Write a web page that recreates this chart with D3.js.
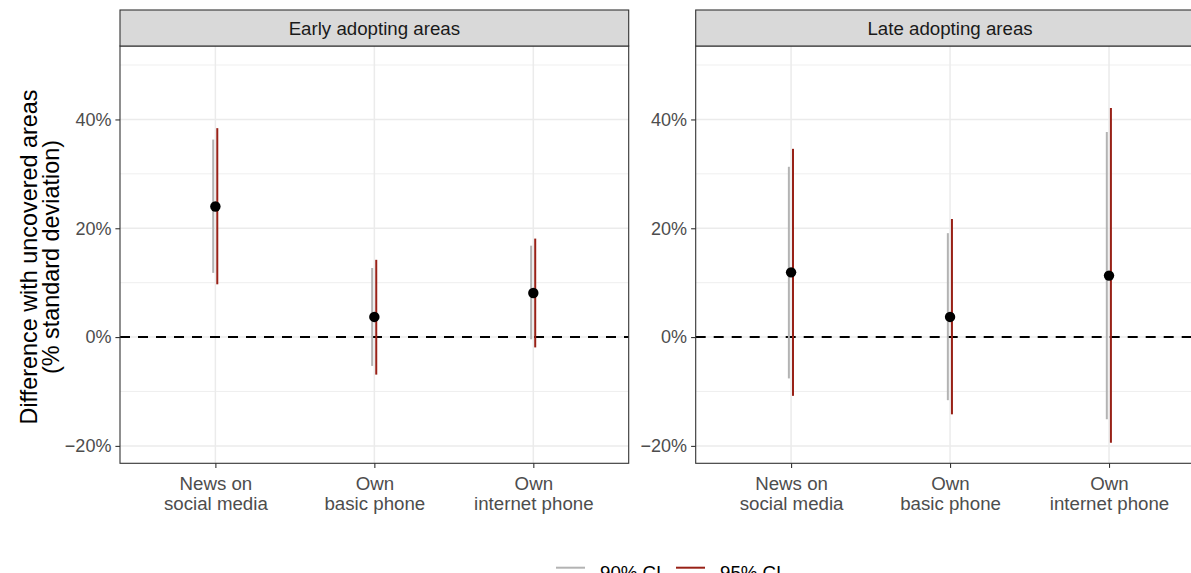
<!DOCTYPE html>
<html>
<head>
<meta charset="utf-8">
<script src="https://cdn.jsdelivr.net/npm/d3@7"></script>
<style>
  html, body { margin: 0; padding: 0; background: #fff; overflow: hidden; }
  svg { display: block; font-family: "Liberation Sans", Arial, Helvetica, sans-serif; }
</style>
</head>
<body>
<svg id="chart" width="1191" height="573"></svg>
<script>
// Outcomes along the x axis (two-line labels)
const categories = ["News on\nsocial media", "Own\nbasic phone", "Own\ninternet phone"];
const panels = ["Early adopting areas", "Late adopting areas"];

// Point estimates (% of a standard deviation), one array per panel
const estEarly = [24.0, 3.7, 8.1];
const estLate  = [11.9, 3.7, 11.3];

// 90% confidence intervals
const ci90LowEarly  = [11.8, -5.3, -0.4];
const ci90HighEarly = [36.3, 12.7, 16.8];
const ci90LowLate   = [-7.6, -11.6, -15.1];
const ci90HighLate  = [31.3, 19.1, 37.7];

// 95% confidence intervals
const ci95LowEarly  = [9.7, -6.9, -1.9];
const ci95HighEarly = [38.4, 14.2, 18.1];
const ci95LowLate   = [-10.8, -14.2, -19.4];
const ci95HighLate  = [34.6, 21.7, 42.1];

const yTicks = [-20, 0, 20, 40];
const yMinor = [-10, 10, 30, 50];
const legendLabels = ["90% CI", "95% CI"];

const panelData = [
  { title: panels[0], est: estEarly, lo90: ci90LowEarly, hi90: ci90HighEarly, lo95: ci95LowEarly, hi95: ci95HighEarly },
  { title: panels[1], est: estLate,  lo90: ci90LowLate,  hi90: ci90HighLate,  lo95: ci95LowLate,  hi95: ci95HighLate }
];

const col90 = "#b3b3b3";
const col95 = "#982117";
const svg = d3.select("#chart");

const panelTop = 46, panelBottom = 463.3;
const panelX = [[120, 628.7], [695.7, 1204.4]];
const stripTop = 10;

const y = d3.scaleLinear().domain([-23.2, 53.5]).range([panelBottom, panelTop]);
const pct = d => (d < 0 ? "\u2212" : "") + Math.abs(d) + "%";

panelData.forEach((p, i) => {
  const [x0, x1] = panelX[i];
  const x = d3.scalePoint().domain(categories).range([x0, x1]).padding(0.6);
  const g = svg.append("g");

  // panel background + grid
  g.append("rect").attr("x", x0).attr("y", panelTop).attr("width", x1 - x0).attr("height", panelBottom - panelTop).attr("fill", "#fff");
  g.selectAll(".minor").data(yMinor).join("line")
    .attr("x1", x0).attr("x2", x1).attr("y1", d => y(d)).attr("y2", d => y(d))
    .attr("stroke", "#ebebeb").attr("stroke-width", 0.8);
  g.selectAll(".major").data(yTicks).join("line")
    .attr("x1", x0).attr("x2", x1).attr("y1", d => y(d)).attr("y2", d => y(d))
    .attr("stroke", "#ebebeb").attr("stroke-width", 1.5);
  g.selectAll(".vgrid").data(categories).join("line")
    .attr("x1", d => x(d)).attr("x2", d => x(d)).attr("y1", panelTop).attr("y2", panelBottom)
    .attr("stroke", "#ebebeb").attr("stroke-width", 1.5);

  // reference line at zero
  g.append("line").attr("x1", x0).attr("x2", x1).attr("y1", y(0)).attr("y2", y(0))
    .attr("stroke", "#000").attr("stroke-width", 2).attr("stroke-dasharray", "10,8");

  const idx = d3.range(categories.length);
  // 90% intervals (nudged left), 95% intervals (nudged right)
  g.selectAll(".ci90").data(idx).join("line")
    .attr("x1", j => x(categories[j]) - 2.2).attr("x2", j => x(categories[j]) - 2.2)
    .attr("y1", j => y(p.lo90[j])).attr("y2", j => y(p.hi90[j]))
    .attr("stroke", col90).attr("stroke-width", 2);
  g.selectAll(".ci95").data(idx).join("line")
    .attr("x1", j => x(categories[j]) + 1.9).attr("x2", j => x(categories[j]) + 1.9)
    .attr("y1", j => y(p.lo95[j])).attr("y2", j => y(p.hi95[j]))
    .attr("stroke", col95).attr("stroke-width", 2);
  g.selectAll(".pt").data(idx).join("circle")
    .attr("cx", j => x(categories[j])).attr("cy", j => y(p.est[j])).attr("r", 5.2)
    .attr("fill", "#000");

  // panel border
  g.append("rect").attr("x", x0).attr("y", panelTop).attr("width", x1 - x0).attr("height", panelBottom - panelTop)
    .attr("fill", "none").attr("stroke", "#333").attr("stroke-width", 1.1);

  // strip
  g.append("rect").attr("x", x0).attr("y", stripTop).attr("width", x1 - x0).attr("height", panelTop - stripTop)
    .attr("fill", "#d9d9d9").attr("stroke", "#333").attr("stroke-width", 1.1);
  g.append("text").attr("x", (x0 + x1) / 2).attr("y", (stripTop + panelTop) / 2)
    .attr("dy", "0.35em").attr("text-anchor", "middle").attr("font-size", 18.7).attr("fill", "#1a1a1a")
    .text(p.title);

  // y axis
  const yAxis = d3.axisLeft(y).tickValues(yTicks).tickSize(4.6).tickPadding(4).tickFormat(pct);
  const ya = g.append("g").attr("transform", `translate(${x0},0)`).call(yAxis);
  ya.select(".domain").remove();
  ya.selectAll(".tick line").attr("stroke", "#333").attr("stroke-width", 1.1);
  ya.selectAll(".tick text").attr("font-size", 18).attr("fill", "#4d4d4d")
    .attr("font-family", "Liberation Sans, Arial, sans-serif");

  // x axis
  const xAxis = d3.axisBottom(x).tickSize(4.6).tickFormat("");
  const xa = g.append("g").attr("transform", `translate(0,${panelBottom})`).call(xAxis);
  xa.select(".domain").remove();
  xa.selectAll(".tick line").attr("stroke", "#333").attr("stroke-width", 1.1);
  xa.selectAll(".tick").each(function (d) {
    const t = d3.select(this).append("text").attr("text-anchor", "middle")
      .attr("font-size", 18.7).attr("fill", "#4d4d4d")
      .attr("font-family", "Liberation Sans, Arial, sans-serif");
    d.split("\n").forEach((line, k) => {
      t.append("tspan").attr("x", 0).attr("y", 27 + k * 19.5).text(line);
    });
  });
});

// y axis title
const yt = svg.append("text").attr("transform", "translate(0,257) rotate(-90)")
  .attr("text-anchor", "middle").attr("font-size", 23.4).attr("fill", "#000");
yt.append("tspan").attr("x", 0).attr("y", 37).text("Difference with uncovered areas");
yt.append("tspan").attr("x", 0).attr("y", 58.5).text("(% standard deviation)");

// legend
const legend = svg.append("g");
const legendCols = [col90, col95];
const legendX = [556, 676];
legendLabels.forEach((lab, i) => {
  legend.append("line").attr("x1", legendX[i]).attr("x2", legendX[i] + 29)
    .attr("y1", 567.7).attr("y2", 567.7).attr("stroke", legendCols[i]).attr("stroke-width", 2);
  legend.append("text").attr("x", legendX[i] + 44).attr("y", 578.5)
    .attr("font-size", 18.7).attr("fill", "#000").text(lab);
});
</script>
</body>
</html>
